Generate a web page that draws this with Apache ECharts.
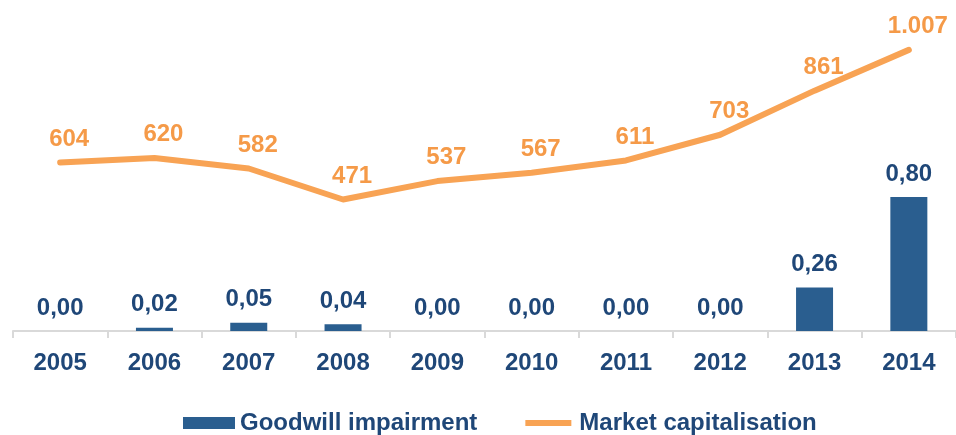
<!DOCTYPE html>
<html>
<head>
<meta charset="utf-8">
<script src="https://cdn.jsdelivr.net/npm/echarts@6/dist/echarts.min.js"></script>
<style>
  html, body { margin: 0; padding: 0; background: #fff; }
  #chart { width: 956px; height: 435px; }
</style>
</head>
<body>
<div id="chart"></div>
<script>
// data
const years = ['2005', '2006', '2007', '2008', '2009', '2010', '2011', '2012', '2013', '2014'];
const goodwillImpairment = [0.00, 0.02, 0.05, 0.04, 0.00, 0.00, 0.00, 0.00, 0.26, 0.80];
const marketCap = [604, 620, 582, 471, 537, 567, 611, 703, 861, 1007];

const NAVY = '#1F4778';
const BAR = '#2A5E8F';
const ORANGE = '#F8A354';
const FONT = 'Liberation Sans, Arial, sans-serif';

const chart = echarts.init(document.getElementById('chart'));

chart.setOption({
  animation: false,
  textStyle: { fontFamily: FONT },
  grid: { left: 13, top: 20, width: 948, height: 311 },
  legend: {
    left: 178,
    top: 406,
    itemGap: 42,
    itemWidth: 52,
    itemHeight: 12,
    textStyle: { color: NAVY, fontSize: 24, fontWeight: 'bold', fontFamily: FONT },
    data: [
      { name: 'Goodwill impairment', icon: 'rect' },
      {
        name: 'Market capitalisation',
        icon: 'roundRect',
        // white border trims the box down to a thick line
        itemStyle: { color: ORANGE, borderColor: '#fff', borderWidth: 6 }
      }
    ]
  },
  xAxis: {
    type: 'category',
    data: years,
    boundaryGap: true,
    axisLine: { lineStyle: { color: '#D9D9D9', width: 2 } },
    axisTick: { show: true, length: 7, lineStyle: { color: '#D9D9D9', width: 2 } },
    axisLabel: { color: NAVY, fontSize: 24, fontWeight: 'bold', margin: 20, fontFamily: FONT }
  },
  yAxis: [
    { type: 'value', min: 0, max: 1.857, show: false, splitLine: { show: false } },
    { type: 'value', min: 0, max: 1114, show: false, splitLine: { show: false } }
  ],
  series: [
    {
      name: 'Goodwill impairment',
      type: 'bar',
      yAxisIndex: 0,
      data: goodwillImpairment,
      barWidth: 37,
      itemStyle: { color: BAR },
      label: {
        show: true,
        position: 'top',
        distance: 11,
        color: NAVY,
        fontSize: 24,
        fontWeight: 'bold',
        fontFamily: FONT,
        formatter: p => p.value.toFixed(2).replace('.', ',')
      }
    },
    {
      name: 'Market capitalisation',
      type: 'line',
      yAxisIndex: 1,
      data: marketCap,
      symbol: 'circle',
      symbolSize: 1,
      lineStyle: { color: ORANGE, width: 6, cap: 'round', join: 'round' },
      itemStyle: { color: ORANGE },
      label: {
        show: true,
        position: 'top',
        distance: 11,
        offset: [9, 0],
        color: '#F59A48',
        fontSize: 24,
        fontWeight: 'bold',
        fontFamily: FONT,
        formatter: p => p.value >= 1000
          ? Math.floor(p.value / 1000) + '.' + String(p.value % 1000).padStart(3, '0')
          : String(p.value)
      }
    }
  ]
});
</script>
</body>
</html>
